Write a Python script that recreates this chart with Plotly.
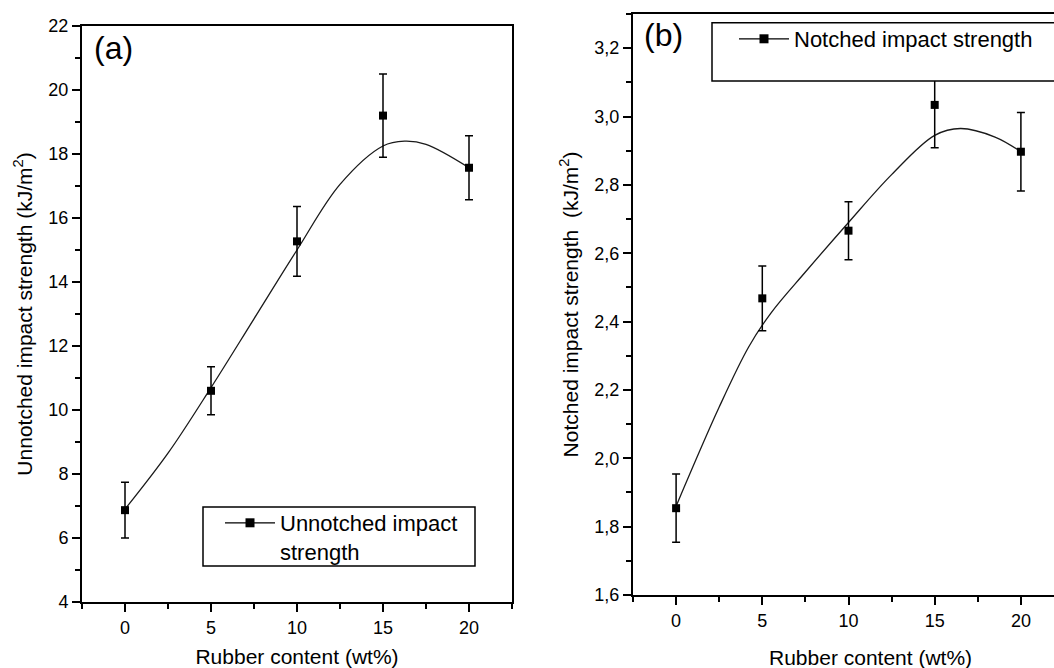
import plotly.graph_objects as go

# ---------------- data ----------------
rubber = [0, 5, 10, 15, 20]

unnotched = [6.87, 10.6, 15.27, 19.2, 17.57]
unnotched_err = [0.87, 0.75, 1.09, 1.3, 1.0]

notched = [1.854, 2.468, 2.666, 3.034, 2.897]
notched_err = [0.10, 0.095, 0.085, 0.125, 0.115]

# smooth fitted curves
fit_a_x = [0, 2.5, 5, 7.5, 10, 12.5, 15, 16.25, 17.5, 20]
fit_a_y = [6.9, 8.65, 10.7, 12.85, 15.0, 17.05, 18.25, 18.4, 18.3, 17.57]
fit_b_x = [0, 2.5, 4.2, 5.5, 7.5, 10, 12.5, 15, 16.5, 18.5, 20]
fit_b_y = [1.86, 2.15, 2.325, 2.425, 2.545, 2.69, 2.83, 2.945, 2.965, 2.94, 2.897]

x_ticks = [0, 5, 10, 15, 20]
ya_ticks = [4, 6, 8, 10, 12, 14, 16, 18, 20, 22]
yb_ticks = [1.6, 1.8, 2.0, 2.2, 2.4, 2.6, 2.8, 3.0, 3.2]

name_a = "Unnotched impact<br>strength"
name_b = "Notched impact strength"

FONT = "Liberation Sans, Arial, Helvetica, sans-serif"
W, H = 1054, 668


def px(v):
    return v / W


def py(v):
    return (H - v) / H


fig = go.Figure()

# ---- panel (a)
fig.add_trace(go.Scatter(x=fit_a_x, y=fit_a_y, mode="lines",
                         line=dict(color="#1a1a1a", width=1.3, shape="spline", smoothing=1.0),
                         showlegend=False, xaxis="x", yaxis="y", hoverinfo="skip"))
fig.add_trace(go.Scatter(x=rubber, y=unnotched, mode="markers",
                         marker=dict(symbol="square", size=8, color="black"),
                         error_y=dict(type="data", array=unnotched_err, color="black",
                                      thickness=1.5, width=4),
                         showlegend=False, xaxis="x", yaxis="y"))
fig.add_trace(go.Scatter(x=[None], y=[None], mode="lines+markers", name=name_a,
                         line=dict(color="black", width=1.3),
                         marker=dict(symbol="square", size=9, color="black"),
                         xaxis="x", yaxis="y", legend="legend"))

# ---- panel (b)
fig.add_trace(go.Scatter(x=fit_b_x, y=fit_b_y, mode="lines",
                         line=dict(color="#1a1a1a", width=1.3, shape="spline", smoothing=1.0),
                         showlegend=False, xaxis="x2", yaxis="y2", hoverinfo="skip"))
fig.add_trace(go.Scatter(x=rubber, y=notched, mode="markers",
                         marker=dict(symbol="square", size=8, color="black"),
                         error_y=dict(type="data", array=notched_err, color="black",
                                      thickness=1.5, width=4),
                         showlegend=False, xaxis="x2", yaxis="y2"))
fig.add_trace(go.Scatter(x=[None], y=[None], mode="lines+markers", name=name_b,
                         line=dict(color="black", width=1.3),
                         marker=dict(symbol="square", size=9, color="black"),
                         xaxis="x2", yaxis="y2", legend="legend2"))

tickfont = dict(family=FONT, size=18, color="black")
titlefont = dict(family=FONT, size=21, color="black")
legendfont = dict(family=FONT, size=22, color="black")

common_x = dict(showgrid=False, zeroline=False, showline=True, linecolor="black", linewidth=2,
                ticks="outside", ticklen=8, tickwidth=2, tickcolor="black", automargin=False,
                tickmode="array", tickvals=x_ticks, tickfont=tickfont,
                minor=dict(ticks="outside", ticklen=5, tickwidth=1.5, tickcolor="black",
                           dtick=2.5, tick0=0))

fig.update_layout(
    width=W, height=H,
    margin=dict(l=0, r=0, t=0, b=0, autoexpand=False),
    paper_bgcolor="white", plot_bgcolor="white",
    separators=",.",
    font=dict(family=FONT, color="black"),
    xaxis=dict(common_x, domain=[px(82), px(512)], range=[-2.5, 22.5], mirror=True, anchor="y",
               title=dict(text="Rubber content (wt%)", font=titlefont, standoff=18)),
    yaxis=dict(domain=[py(602), py(26)], range=[4, 22], anchor="x", automargin=False,
               showgrid=False, zeroline=False, showline=True, linecolor="black", linewidth=2,
               mirror=True, ticks="outside", ticklen=8, tickwidth=2, tickcolor="black",
               tickmode="array", tickvals=ya_ticks, tickfont=tickfont,
               minor=dict(ticks="outside", ticklen=5, tickwidth=1.5, tickcolor="black",
                          dtick=1, tick0=0),
               title=dict(text="Unnotched impact strength (kJ/m<sup>2</sup>)",
                          font=titlefont, standoff=10)),
    xaxis2=dict(common_x, domain=[px(633), 1.0], range=[-2.5, 21.92], mirror=True, anchor="y2"),
    yaxis2=dict(domain=[py(595), py(14)], range=[1.6, 3.3], anchor="x2", automargin=False,
                showgrid=False, zeroline=False, showline=True, linecolor="black", linewidth=2,
                mirror=False, ticks="outside", ticklen=8, tickwidth=2, tickcolor="black",
                tickmode="array", tickvals=yb_ticks, tickformat=".1f", tickfont=tickfont,
                minor=dict(ticks="outside", ticklen=5, tickwidth=1.5, tickcolor="black",
                           dtick=0.1, tick0=0),
                title=dict(text="Notched impact strength  (kJ/m<sup>2</sup>)",
                           font=titlefont, standoff=10)),
    legend=dict(x=px(220), y=py(502), xanchor="left", yanchor="top",
                bgcolor="rgba(0,0,0,0)", borderwidth=0, valign="top",
                font=legendfont, itemwidth=50),
    legend2=dict(x=px(734), y=py(18), xanchor="left", yanchor="top",
                 bgcolor="rgba(0,0,0,0)", borderwidth=0, valign="top",
                 font=legendfont, itemwidth=50),
    shapes=[
        dict(type="rect", xref="paper", yref="paper", layer="above",
             x0=px(203), x1=px(475), y0=py(566), y1=py(507),
             line=dict(color="black", width=1.5), fillcolor="white"),
        dict(type="rect", xref="paper", yref="paper", layer="above",
             x0=px(712), x1=px(1060), y0=py(81), y1=py(22.7),
             line=dict(color="black", width=1.5), fillcolor="white"),
    ],
    annotations=[
        dict(text="(a)", xref="paper", yref="paper", x=px(113), y=py(48),
             xanchor="center", yanchor="middle",
             showarrow=False, font=dict(family=FONT, size=32, color="black")),
        dict(text="(b)", xref="paper", yref="paper", x=px(663), y=py(35),
             xanchor="center", yanchor="middle",
             showarrow=False, font=dict(family=FONT, size=32, color="black")),
        dict(text="Rubber content (wt%)", xref="paper", yref="paper", x=px(870), y=py(657),
             xanchor="center", yanchor="middle",
             showarrow=False, font=titlefont),
    ],
)

fig.write_html("out.html")
